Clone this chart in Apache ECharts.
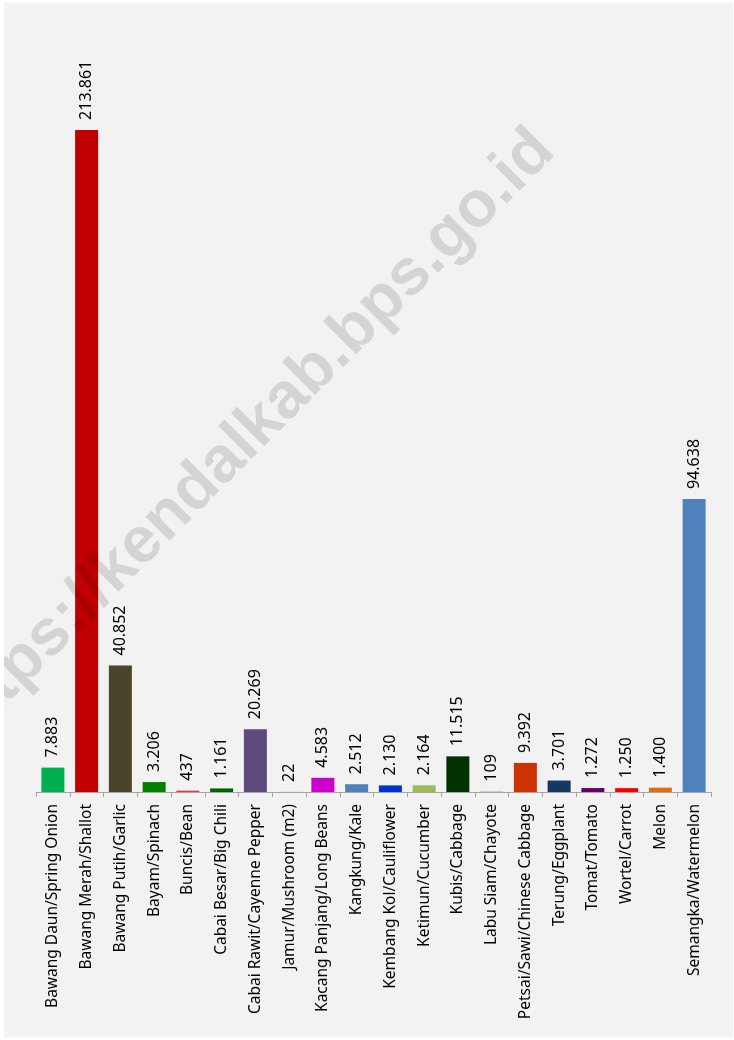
<!DOCTYPE html>
<html>
<head>
<meta charset="utf-8">
<script src="https://cdn.jsdelivr.net/npm/echarts@6/dist/echarts.min.js"></script>
<style>
  html, body { margin: 0; padding: 0; background: #ffffff; }
  #chart { position: absolute; left: 4px; top: 3px; width: 729px; height: 1034px; background: #f2f2f2; }
</style>
</head>
<body>
<div id="chart"></div>
<script>
// komoditas sayuran & buah semusim
const categories = [
  'Bawang Daun/Spring Onion', 'Bawang Merah/Shallot', 'Bawang Putih/Garlic', 'Bayam/Spinach',
  'Buncis/Bean', 'Cabai Besar/Big Chili', 'Cabai Rawit/Cayenne Pepper', 'Jamur/Mushroom (m2)',
  'Kacang Panjang/Long Beans', 'Kangkung/Kale', 'Kembang Kol/Cauliflower', 'Ketimun/Cucumber',
  'Kubis/Cabbage', 'Labu Siam/Chayote', 'Petsai/Sawi/Chinese Cabbage', 'Terung/Eggplant',
  'Tomat/Tomato', 'Wortel/Carrot', 'Melon', 'Semangka/Watermelon'
]
const values = [7883, 213861, 40852, 3206, 437, 1161, 20269, 22, 4583, 2512,
  2130, 2164, 11515, 109, 9392, 3701, 1272, 1250, 1400, 94638]
const barColors = ['#00b050', '#c00000', '#4a452a', '#008000', '#e03c3c', '#006400', '#604a7b', '#7f7f7f',
  '#cc00cc', '#4f81bd', '#0033cc', '#9bbb59', '#003300', '#7f7f7f', '#cc3300', '#17375e',
  '#660066', '#ff0000', '#e46c0a', '#4f81bd']

const chart = echarts.init(document.getElementById('chart'))

// format angka gaya Indonesia: titik sebagai pemisah ribuan
function fmt (v) {
  return String(v).replace(/\B(?=(\d{3})+(?!\d))/g, '.')
}

const option = {
  animation: false,
  grid: {
    left: 32,
    right: 22,
    top: 15,
    bottom: 245
  },
  xAxis: {
    type: 'category',
    data: categories,
    axisLine: { lineStyle: { color: '#a6a6a6', width: 1 } },
    axisTick: { show: true, inside: false, length: 5, lineStyle: { color: '#a6a6a6' } },
    axisLabel: {
      rotate: 90,
      interval: 0,
      margin: 12,
      color: '#000000',
      fontSize: 15.5,
      fontFamily: 'Noto Sans'
    }
  },
  yAxis: {
    type: 'value',
    min: 0,
    max: 250000,
    show: false,
    splitLine: { show: false }
  },
  series: [
    {
      type: 'bar',
      barWidth: 23,
      data: values.map((v, i) => ({ value: v, itemStyle: { color: barColors[i] } })),
      label: {
        show: true,
        position: 'top',
        rotate: 90,
        align: 'left',
        verticalAlign: 'middle',
        distance: 10,
        color: '#000000',
        fontSize: 16,
        fontFamily: 'Noto Sans',
        formatter: p => fmt(p.value)
      }
    }
  ],
  graphic: [
    {
      type: 'text',
      z: 100,
      x: 243,
      y: 435,
      rotation: Math.PI / 4,
      style: {
        text: 'https://kendalkab.bps.go.id',
        font: 'bold 65px "Liberation Sans"',
        fill: 'rgba(0,0,0,0.12)',
        align: 'center',
        verticalAlign: 'middle'
      }
    }
  ]
}

chart.setOption(option)
</script>
</body>
</html>
